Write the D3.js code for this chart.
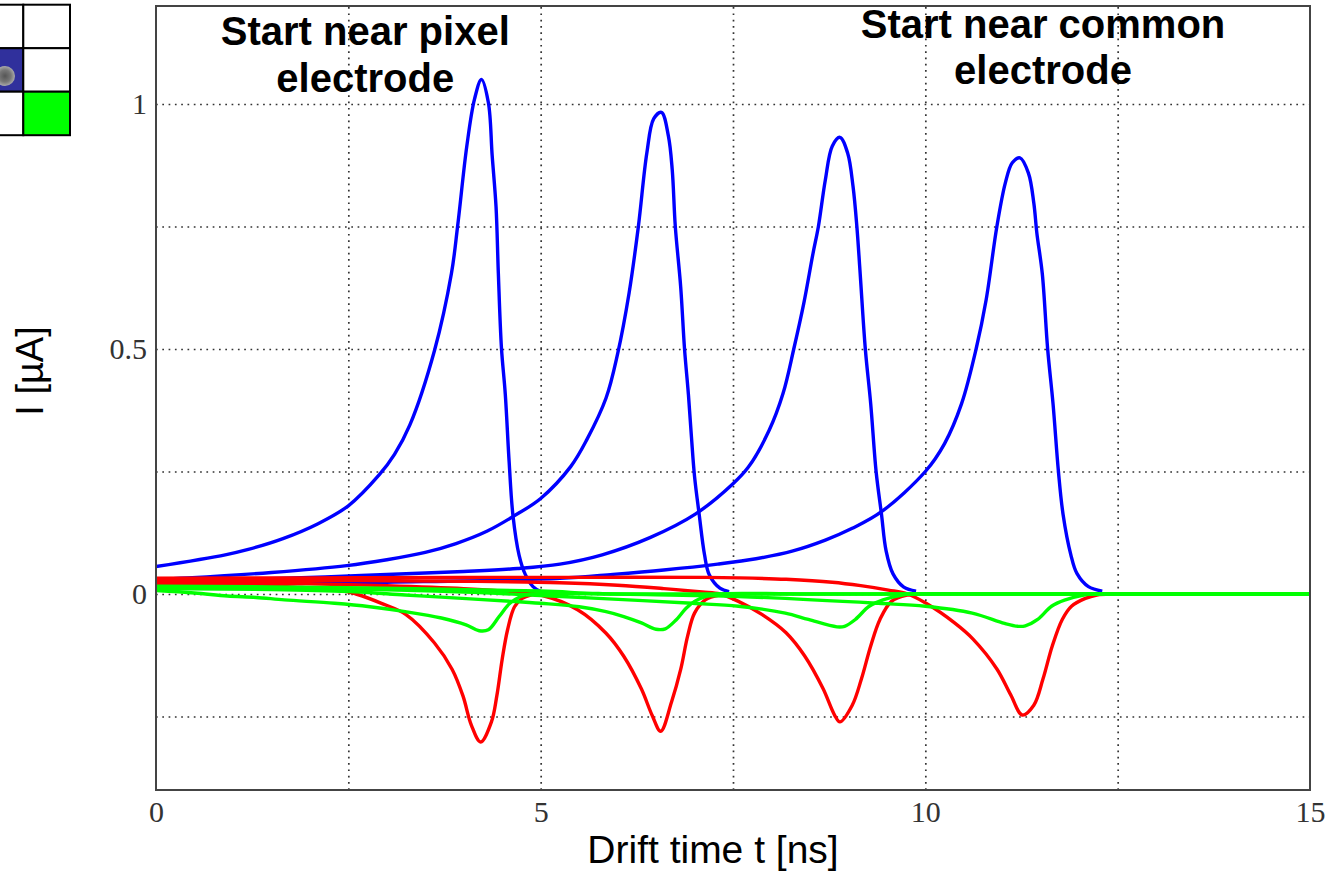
<!DOCTYPE html>
<html>
<head>
<meta charset="utf-8">
<script src="https://cdn.jsdelivr.net/npm/d3@7"></script>
<style>
  html, body { margin: 0; padding: 0; background: #fff; }
  svg { display: block; }
</style>
</head>
<body>
<svg id="chart" width="1331" height="872"></svg>
<script>
// ---------- data (t in ns, I in µA) ----------
const xTickLabels = [0, 5, 10, 15];
const yTickLabels = [0, 0.5, 1];
const xGridValues = [2.5, 5, 7.5, 10, 12.5];
const yGridValues = [-0.25, 0, 0.25, 0.5, 0.75, 1];

const blue1 = [[0,0.056],[0.9,0.08],[1.2,0.091],[1.65,0.113],[2.1,0.143],[2.5,0.18],[2.9,0.243],[3.1,0.285],[3.3,0.345],[3.62,0.497],[3.84,0.654],[3.92,0.75],[4.04,0.914],[4.14,1.01],[4.23,1.05],[4.32,1.003],[4.37,0.894],[4.42,0.79],[4.45,0.654],[4.49,0.503],[4.54,0.408],[4.59,0.27],[4.64,0.16],[4.72,0.079],[4.8,0.04],[4.9,0.015],[5.0,0.005]];
const blue2 = [[0,0.03],[0.41,0.033],[1.5,0.044],[2.48,0.058],[3.0,0.07],[3.5,0.085],[3.9,0.103],[4.3,0.128],[4.64,0.158],[5.0,0.195],[5.39,0.26],[5.6,0.315],[5.85,0.4],[6.0,0.49],[6.15,0.615],[6.27,0.75],[6.38,0.9],[6.47,0.97],[6.57,0.983],[6.66,0.935],[6.71,0.866],[6.75,0.75],[6.82,0.627],[6.87,0.5],[6.92,0.408],[6.96,0.32],[7.0,0.24],[7.06,0.163],[7.13,0.08],[7.19,0.04],[7.33,0.012],[7.45,0.005]];
const blue3 = [[0,0.024],[2.2,0.035],[4,0.046],[4.7,0.052],[5.25,0.061],[5.8,0.08],[6.42,0.115],[7.01,0.163],[7.5,0.225],[7.7,0.259],[7.97,0.334],[8.15,0.409],[8.29,0.5],[8.42,0.593],[8.54,0.695],[8.61,0.75],[8.7,0.845],[8.79,0.914],[8.89,0.932],[8.99,0.9],[9.06,0.832],[9.11,0.75],[9.15,0.661],[9.22,0.5],[9.29,0.388],[9.36,0.25],[9.43,0.163],[9.49,0.088],[9.58,0.041],[9.72,0.014],[9.88,0.006]];
const blue4 = [[0,0.018],[3,0.024],[5.25,0.032],[5.94,0.04],[6.6,0.049],[7.3,0.061],[7.8,0.072],[8.28,0.088],[8.7,0.11],[9.05,0.134],[9.43,0.168],[10,0.25],[10.25,0.307],[10.47,0.388],[10.66,0.5],[10.79,0.6],[10.93,0.75],[11.04,0.839],[11.13,0.88],[11.23,0.89],[11.34,0.859],[11.41,0.798],[11.45,0.736],[11.52,0.654],[11.59,0.5],[11.66,0.388],[11.73,0.25],[11.79,0.163],[11.89,0.081],[11.97,0.042],[12.12,0.015],[12.3,0.006]];

const red1 = [[0,0.02],[1,0.018],[1.8,0.014],[2.42,0.007],[2.6,0.0],[2.93,-0.019],[3.25,-0.042],[3.62,-0.1],[3.85,-0.154],[3.99,-0.208],[4.1,-0.268],[4.22,-0.302],[4.36,-0.261],[4.43,-0.208],[4.5,-0.133],[4.57,-0.073],[4.66,-0.026],[4.76,-0.009],[4.87,-0.002],[5.0,0]];
const red2 = [[0,0.024],[1,0.023],[2,0.021],[3,0.017],[4,0.011],[4.6,0.005],[5.0,-0.002],[5.48,-0.032],[5.85,-0.08],[6.08,-0.127],[6.31,-0.194],[6.45,-0.248],[6.56,-0.28],[6.7,-0.221],[6.82,-0.154],[6.91,-0.086],[7.0,-0.039],[7.14,-0.012],[7.33,-0.002],[7.5,0]];
const red3 = [[0,0.028],[2,0.028],[4,0.026],[5.25,0.023],[6.0,0.018],[6.6,0.011],[7.1,0.004],[7.33,0],[7.57,-0.015],[7.88,-0.042],[8.19,-0.079],[8.43,-0.126],[8.67,-0.193],[8.82,-0.247],[8.89,-0.261],[9.05,-0.227],[9.17,-0.173],[9.29,-0.106],[9.41,-0.052],[9.56,-0.015],[9.77,-0.002],[9.9,0]];
const red4 = [[0,0.032],[2,0.033],[4,0.034],[5.75,0.034],[7.15,0.034],[7.57,0.033],[8.19,0.03],[8.79,0.024],[9.16,0.017],[9.52,0.008],[9.77,0.0],[10.01,-0.019],[10.38,-0.059],[10.62,-0.092],[10.93,-0.153],[11.11,-0.206],[11.26,-0.247],[11.41,-0.227],[11.53,-0.173],[11.65,-0.106],[11.78,-0.052],[11.9,-0.025],[12.08,-0.009],[12.23,-0.002],[12.4,0]];

const green1 = [[0,0.007],[0.5,0.002],[0.93,-0.004],[1.3,-0.007],[1.67,-0.012],[2.32,-0.019],[2.78,-0.026],[3.24,-0.036],[3.71,-0.049],[4.03,-0.063],[4.2,-0.075],[4.32,-0.073],[4.46,-0.046],[4.6,-0.019],[4.74,-0.005],[4.88,0],[6,0],[15,0]];
const green2 = [[0,0.011],[1.5,0.009],[2.5,0.005],[3.24,-0.002],[3.98,-0.009],[4.63,-0.015],[5.0,-0.019],[5.5,-0.026],[5.85,-0.036],[6.08,-0.046],[6.31,-0.059],[6.5,-0.072],[6.62,-0.071],[6.76,-0.053],[6.89,-0.029],[7.0,-0.015],[7.15,-0.005],[7.3,0],[8.5,0],[15,0]];
const green3 = [[0,0.013],[2.5,0.01],[4,0.004],[5,-0.003],[5.75,-0.009],[6.97,-0.019],[7.57,-0.025],[8.18,-0.039],[8.48,-0.052],[8.85,-0.067],[8.95,-0.066],[9.09,-0.052],[9.27,-0.025],[9.45,-0.012],[9.7,-0.002],[9.85,0],[11,0],[15,0]];
const green4 = [[0,0.016],[2.5,0.013],[5,0.006],[5.75,0.001],[7.57,-0.005],[9.39,-0.019],[10.0,-0.025],[10.61,-0.039],[11.03,-0.06],[11.21,-0.066],[11.3,-0.065],[11.46,-0.052],[11.64,-0.025],[11.82,-0.012],[12.06,-0.002],[12.2,0],[13.3,0],[15,0]];

const annotations = [
  { lines: ["Start near pixel", "electrode"], t: 2.72, v: [1.12, 1.024] },
  { lines: ["Start near common", "electrode"], t: 11.53, v: [1.135, 1.041] }
];

// ---------- drawing ----------
const svg = d3.select("#chart");
const L = 156, R = 1310, T = 6, B = 790;
const x = d3.scaleLinear().domain([0, 15]).range([L, R]);
const y = d3.scaleLinear().domain([-0.4, 1.2]).range([B, T]);

// grid (dotted)
const gx = svg.append("g").attr("transform", `translate(0,${B})`)
  .call(d3.axisBottom(x).tickValues(xGridValues).tickSize(-(B - T)).tickFormat(""));
gx.select(".domain").remove();
const gy = svg.append("g").attr("transform", `translate(${L},0)`)
  .call(d3.axisLeft(y).tickValues(yGridValues).tickSize(-(R - L)).tickFormat(""));
gy.select(".domain").remove();
svg.selectAll("g .tick line")
  .attr("stroke", "#333").attr("stroke-width", 1.7).attr("stroke-dasharray", "1.7,4.6");

// tick labels
const tickFont = "'Liberation Serif', 'Times New Roman', serif";
const ax = svg.append("g").attr("transform", `translate(0,${B})`)
  .call(d3.axisBottom(x).tickValues(xTickLabels).tickSize(0).tickPadding(0).tickFormat(d3.format("d")));
ax.select(".domain").remove();
ax.selectAll("text").attr("dy", null).attr("y", 32)
  .style("font-family", tickFont).style("font-size", "30px").attr("fill", "#333");

const ay = svg.append("g").attr("transform", `translate(${L},0)`)
  .call(d3.axisLeft(y).tickValues(yTickLabels).tickSize(0).tickPadding(0).tickFormat(d => d3.format("")(d)));
ay.select(".domain").remove();
ay.selectAll("text").attr("dy", "0.32em").attr("x", -9)
  .style("font-family", tickFont).style("font-size", "30px").attr("fill", "#333");

// clip
svg.append("clipPath").attr("id", "plotclip").append("rect")
  .attr("x", L).attr("y", T).attr("width", R - L).attr("height", B - T);

const line = d3.line().x(d => x(d[0])).y(d => y(d[1])).curve(d3.curveCatmullRom.alpha(0.5));
const curves = svg.append("g").attr("clip-path", "url(#plotclip)");
const series = [
  { d: blue1, c: "#0000ff" }, { d: blue2, c: "#0000ff" }, { d: blue3, c: "#0000ff" }, { d: blue4, c: "#0000ff" },
  { d: red1, c: "#ff0000" }, { d: red2, c: "#ff0000" }, { d: red3, c: "#ff0000" }, { d: red4, c: "#ff0000" },
  { d: green1, c: "#00ff00" }, { d: green2, c: "#00ff00" }, { d: green3, c: "#00ff00" }, { d: green4, c: "#00ff00" }
];
curves.selectAll("path").data(series).join("path")
  .attr("d", s => line(s.d))
  .attr("fill", "none").attr("stroke", s => s.c)
  .attr("stroke-width", 3.4).attr("stroke-linejoin", "round");

// frame
svg.append("rect").attr("x", L).attr("y", T).attr("width", R - L).attr("height", B - T)
  .attr("fill", "none").attr("stroke", "#444").attr("stroke-width", 2);

// annotations
annotations.forEach(a => {
  a.lines.forEach((txt, i) => {
    svg.append("text").attr("x", x(a.t)).attr("y", y(a.v[i]))
      .attr("text-anchor", "middle")
      .style("font-family", "'Liberation Sans', Arial, sans-serif")
      .style("font-weight", "bold").style("font-size", "40px").attr("fill", "#000")
      .text(txt);
  });
});

// axis titles
svg.append("text").attr("x", 713).attr("y", 863)
  .attr("text-anchor", "middle")
  .style("font-family", "'Liberation Sans', Arial, sans-serif").style("font-size", "39px")
  .attr("fill", "#000").text("Drift time t [ns]");
svg.append("text").attr("transform", "translate(43,371) rotate(-90)")
  .attr("text-anchor", "middle")
  .style("font-family", "'Liberation Sans', Arial, sans-serif").style("font-size", "38px")
  .attr("fill", "#000").text("I [µA]");

// pixel-map icon (top-left)
const icon = svg.append("g");
const cw = 46.7, ch = 43.5, ox = 23.3 - cw, oy = 4.7;
const cells = [
  { r: 0, c: 0, f: "#fff" }, { r: 0, c: 1, f: "#fff" }, { r: 0, c: 2, f: "#fff" },
  { r: 1, c: 0, f: "#fff" }, { r: 1, c: 1, f: "#30309c" }, { r: 1, c: 2, f: "#fff" },
  { r: 2, c: 0, f: "#fff" }, { r: 2, c: 1, f: "#fff" }, { r: 2, c: 2, f: "#00ff00" }
];
icon.selectAll("rect").data(cells).join("rect")
  .attr("x", d => ox + (d.c - 1) * cw).attr("y", d => oy + d.r * ch)
  .attr("width", cw).attr("height", ch)
  .attr("fill", d => d.f).attr("stroke", "#000").attr("stroke-width", 2);
const defs = svg.append("defs");
const rg = defs.append("radialGradient").attr("id", "ball");
rg.append("stop").attr("offset", "0%").attr("stop-color", "#555");
rg.append("stop").attr("offset", "60%").attr("stop-color", "#777");
rg.append("stop").attr("offset", "100%").attr("stop-color", "#aaa");
icon.append("circle").attr("cx", 5).attr("cy", 76).attr("r", 10).attr("fill", "url(#ball)");
</script>
</body>
</html>
